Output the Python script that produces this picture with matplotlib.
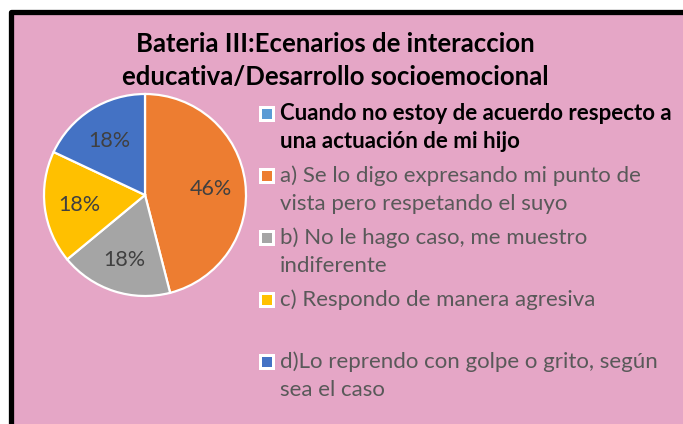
import matplotlib
matplotlib.use("Agg")
import matplotlib.pyplot as plt
from matplotlib.patches import Rectangle

# chart data
title_lines = ["Bateria III:Ecenarios de interaccion",
               "educativa/Desarrollo socioemocional"]
labels = [
    "Cuando no estoy de acuerdo respecto a\nuna actuación de mi hijo",
    "a) Se lo digo expresando mi punto de\nvista pero respetando el suyo",
    "b) No le hago caso, me muestro\nindiferente",
    "c) Respondo de manera agresiva",
    "d)Lo reprendo con golpe o grito, según\nsea el caso",
]
values = [0, 46, 18, 18, 18]
colors = ["#5B9BD5", "#ED7D31", "#A5A5A5", "#FFC000", "#4472C4"]

W, H = 683, 424
BG = "#E5A6C6"
FONT = "Lato"

fig = plt.figure(figsize=(W / 100, H / 100), dpi=100)
fig.patch.set_facecolor("white")

# full-figure axes in pixel coordinates for frame, title and legend
base = fig.add_axes([0, 0, 1, 1])
base.set_xlim(0, W)
base.set_ylim(H, 0)
base.axis("off")
# chart area runs off the right and bottom of the picture, so only the
# left and top edges of its black frame are visible
base.add_patch(Rectangle((10.5, 12), W, H, facecolor=BG, edgecolor="none"))
base.plot([10.5, 10.5, W], [H, 12, 12], color="black", linewidth=3.8,
          solid_joinstyle="round")

for i, line in enumerate(title_lines):
    base.text(335, 52 + i * 33, line, ha="center", va="baseline",
              fontsize=18.5, fontweight="bold", family=FONT, color="black")

# legend drawn by hand so markers line up with the first text line
y0, step, lh = 114, 62, 28
for i, (lab, col) in enumerate(zip(labels, colors)):
    y = y0 + i * step
    base.add_patch(Rectangle((259, y - 8), 16, 16, facecolor="white",
                             edgecolor="none"))
    base.add_patch(Rectangle((262, y - 5), 10, 10, facecolor=col,
                             edgecolor="none"))
    first = i == 0
    for k, part in enumerate(lab.split("\n")):
        base.text(280, y + k * lh, part, ha="left", va="center",
                  fontsize=16, family=FONT,
                  fontweight="bold" if first else "normal",
                  color="black" if first else "#595959")

# pie
cx, cy, r = 145, 195, 101
side = 2.5 * r
ax = fig.add_axes([(cx - side / 2) / W, (H - cy - side / 2) / H,
                   side / W, side / H])
ax.pie(values, colors=colors, startangle=90, counterclock=False,
       autopct=lambda p: f"{p:.0f}%" if p > 0 else "",
       pctdistance=0.66,
       wedgeprops=dict(edgecolor="white", linewidth=1.6),
       textprops=dict(fontsize=15.5, family=FONT, color="#404040",
                      va="center_baseline"))
ax.set_xlim(-1.25, 1.25)
ax.set_ylim(-1.25, 1.25)
ax.set_aspect("equal")

fig.savefig("out.png", dpi=100, facecolor=fig.get_facecolor())
